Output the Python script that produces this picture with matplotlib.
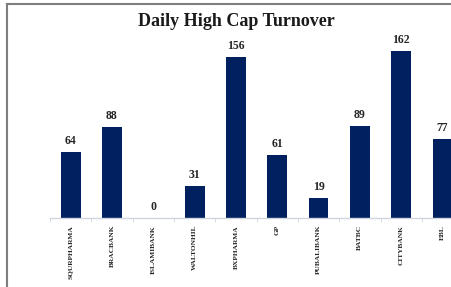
import matplotlib.pyplot as plt
from matplotlib.lines import Line2D
import numpy as np

companies = ["SQURPHARMA", "BRACBANK", "ISLAMIBANK", "WALTONHIL", "BXPHARMA",
             "GP", "PUBALIBANK", "BATBC", "CITYBANK", "EBL"]
turnover = [64, 88, 0, 31, 156, 61, 19, 89, 162, 77]

W, H = 452, 287
fig = plt.figure(figsize=(W / 100, H / 100), dpi=100)
serif = ["Liberation Serif", "DejaVu Serif"]

# outer chart frame (cropped on the right and bottom in the reference)
fig.add_artist(Line2D([7 / W, 1], [1 - 4 / H, 1 - 4 / H], color="#7f7f7f", lw=1.5))
fig.add_artist(Line2D([7 / W, 7 / W], [0, 1 - 4 / H], color="#7f7f7f", lw=1.5))

base_y = 218
top_y = 30
ax = fig.add_axes([50 / W, (H - base_y) / H, (W - 50) / W, (base_y - top_y) / H])

x = np.arange(len(companies))
bars = ax.bar(x, turnover, width=0.48, color="#002060")
for xi, v in zip(x, turnover):
    ax.text(xi, v + 5, str(v), ha="center", va="bottom", fontsize=8.5,
            fontweight="bold", family=serif, color="#262626")

for s in ["top", "right", "left"]:
    ax.spines[s].set_visible(False)
ax.spines["bottom"].set_color("#d0d5e0")
ax.spines["bottom"].set_linewidth(1)
ax.set_yticks([])
ax.set_xticks(x)
ax.set_xticklabels(companies, rotation=90, fontsize=5.3, fontweight="bold",
                   family=serif, color="#262626")
ax.tick_params(axis="x", which="major", length=0, pad=5)
ax.set_xticks(np.arange(-0.5, 9.6, 1), minor=True)
ax.tick_params(axis="x", which="minor", length=3, color="#d0d5e0")
# chart is cut off on the right, so the last category is only partly shown
ax.set_xlim(-0.5, 9.23)
ax.set_ylim(0, 182.5)

fig.text(236 / W, 1 - 22 / H, "Daily High Cap Turnover", ha="center", va="center",
         fontsize=13, fontweight="bold", family=serif, color="#1a1a1a")

fig.savefig("out.png", dpi=100)
